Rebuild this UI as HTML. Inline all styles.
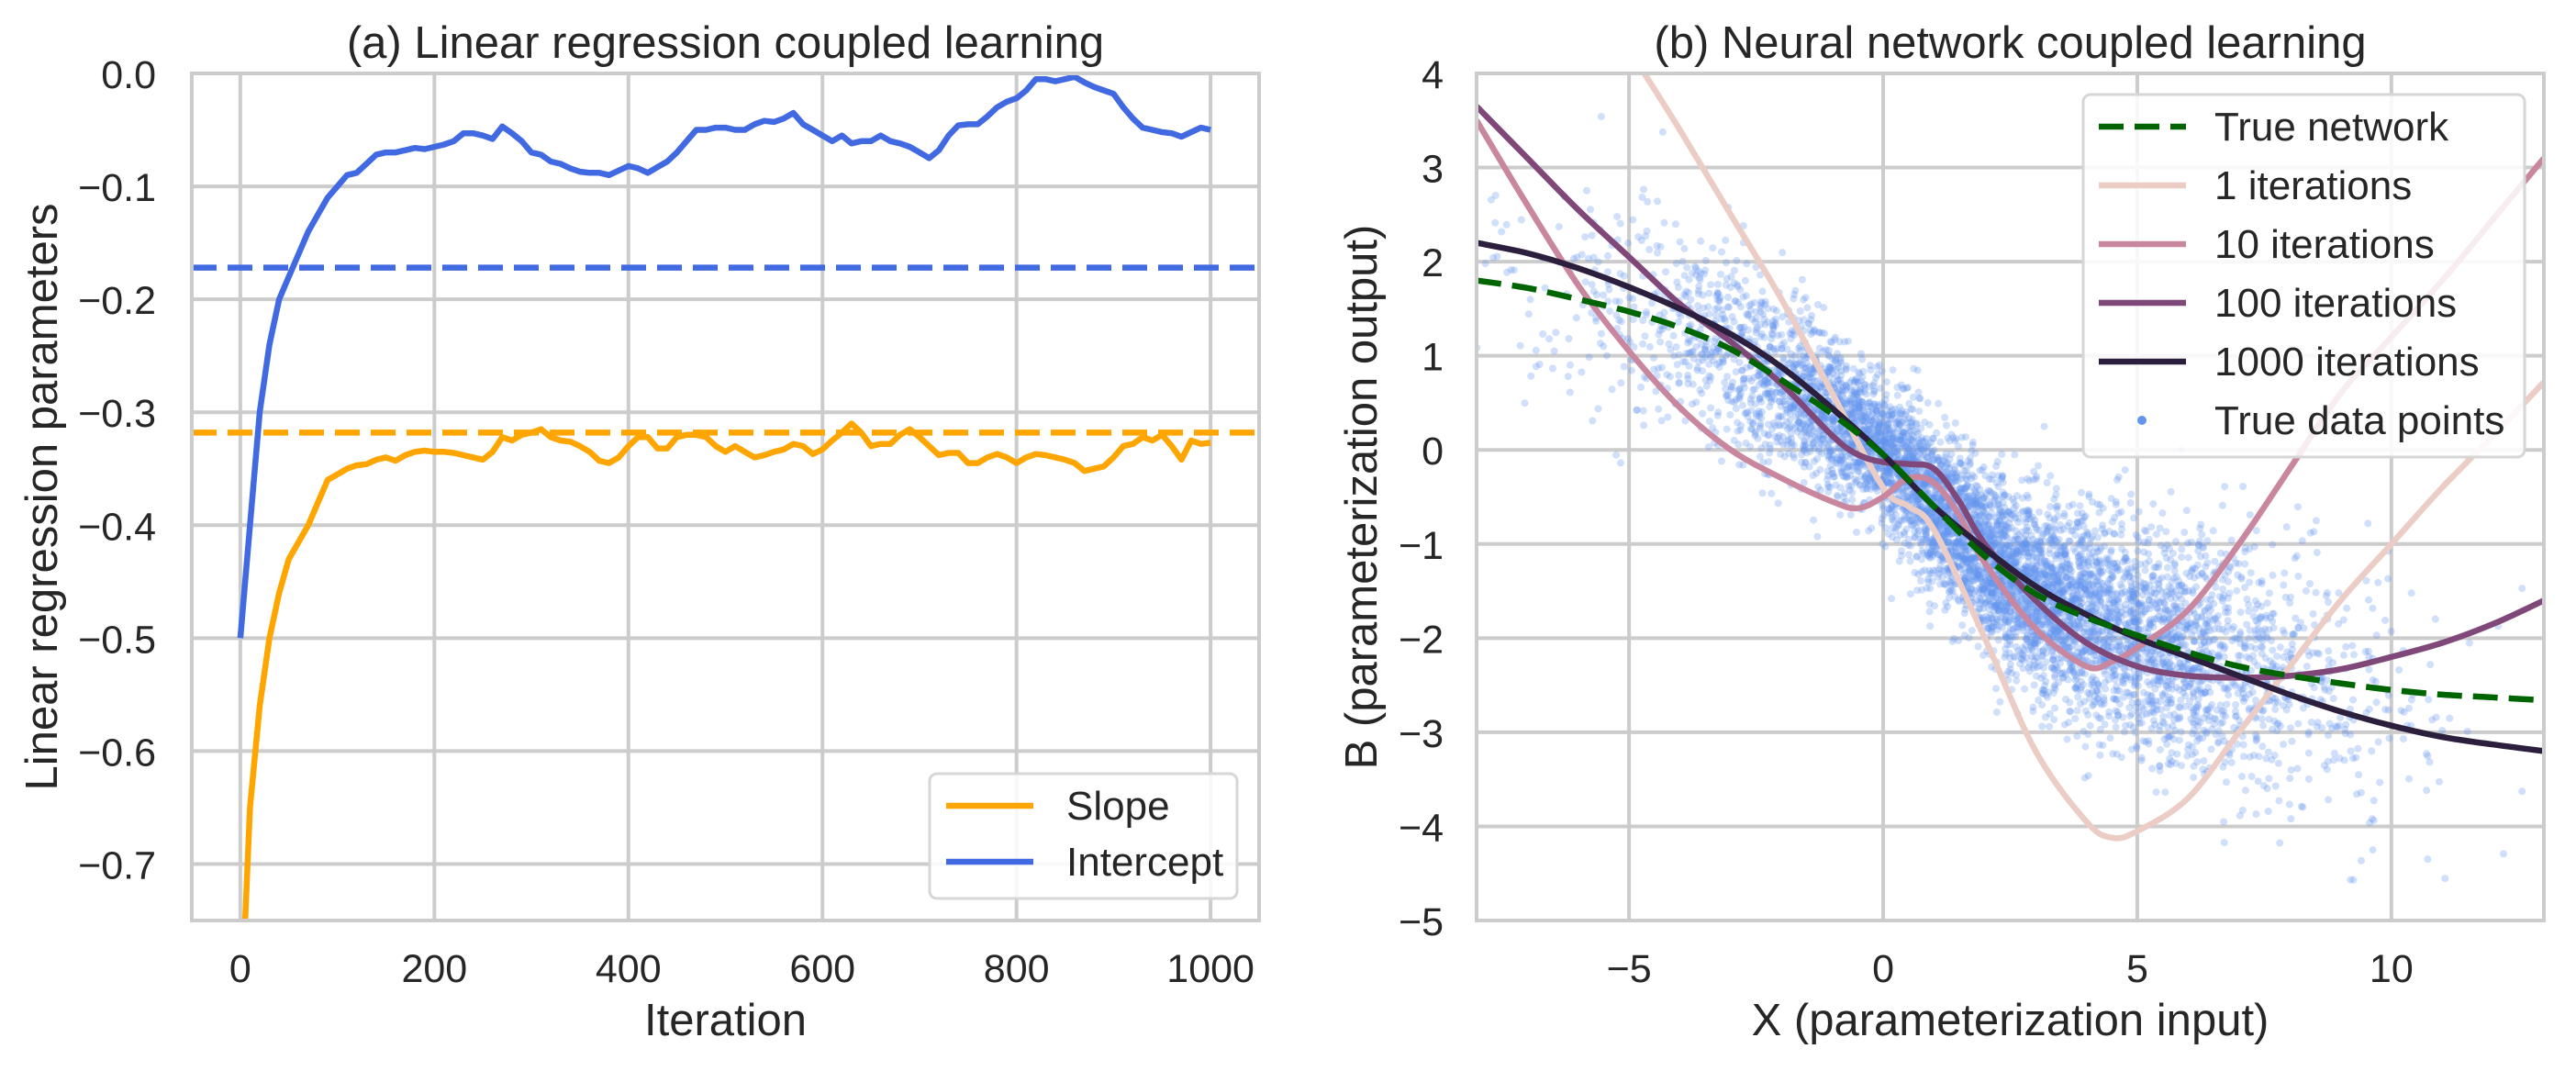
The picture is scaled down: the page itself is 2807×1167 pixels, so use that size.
<!DOCTYPE html>
<html><head><meta charset="utf-8"><style>
html,body{margin:0;padding:0;background:#fff}
svg{display:block;font-family:"Liberation Sans",Arial,sans-serif}
</style></head><body>
<svg id="fig" width="2807" height="1167" viewBox="0 0 2807 1167" xmlns="http://www.w3.org/2000/svg">
<g id="left"></g>
<g id="right"></g>
</svg>
<script>
// ---- Panel (a) data ----
const iterSteps = [0,10,20,30,40,50,60,70,80,90,100,110,120,130,140,150,160,170,180,190,200,210,220,230,240,250,260,270,280,290,300,310,320,330,340,350,360,370,380,390,400,410,420,430,440,450,460,470,480,490,500,510,520,530,540,550,560,570,580,590,600,610,620,630,640,650,660,670,680,690,700,710,720,730,740,750,760,770,780,790,800,810,820,830,840,850,860,870,880,890,900,910,920,930,940,950,960,970,980,990,1000];
const interceptVals = [-0.50,-0.40,-0.30,-0.24,-0.20,-0.18,-0.16,-0.14,-0.125,-0.11,-0.10,-0.09,-0.088,-0.08,-0.072,-0.07,-0.07,-0.068,-0.066,-0.067,-0.065,-0.063,-0.06,-0.053,-0.053,-0.055,-0.058,-0.047,-0.053,-0.06,-0.07,-0.072,-0.078,-0.08,-0.084,-0.087,-0.088,-0.088,-0.09,-0.086,-0.082,-0.084,-0.088,-0.083,-0.078,-0.07,-0.06,-0.05,-0.05,-0.048,-0.048,-0.05,-0.05,-0.045,-0.042,-0.043,-0.04,-0.035,-0.045,-0.05,-0.055,-0.06,-0.055,-0.062,-0.06,-0.06,-0.055,-0.06,-0.062,-0.065,-0.07,-0.075,-0.068,-0.055,-0.046,-0.045,-0.045,-0.038,-0.03,-0.025,-0.022,-0.015,-0.005,-0.005,-0.007,-0.005,-0.003,-0.008,-0.012,-0.015,-0.018,-0.03,-0.04,-0.048,-0.05,-0.052,-0.053,-0.056,-0.052,-0.048,-0.05];
const slopeVals = [-0.85,-0.65,-0.56,-0.50,-0.46,-0.43,-0.415,-0.40,-0.38,-0.36,-0.355,-0.35,-0.347,-0.346,-0.342,-0.340,-0.343,-0.338,-0.335,-0.334,-0.335,-0.335,-0.336,-0.338,-0.340,-0.342,-0.335,-0.322,-0.325,-0.32,-0.318,-0.315,-0.322,-0.325,-0.326,-0.33,-0.335,-0.343,-0.345,-0.34,-0.33,-0.322,-0.322,-0.332,-0.332,-0.322,-0.32,-0.32,-0.322,-0.33,-0.335,-0.33,-0.335,-0.34,-0.338,-0.335,-0.333,-0.328,-0.33,-0.337,-0.333,-0.325,-0.318,-0.31,-0.318,-0.33,-0.328,-0.328,-0.32,-0.315,-0.322,-0.33,-0.338,-0.336,-0.336,-0.345,-0.345,-0.34,-0.337,-0.34,-0.345,-0.34,-0.337,-0.338,-0.34,-0.342,-0.345,-0.352,-0.35,-0.348,-0.34,-0.33,-0.328,-0.322,-0.325,-0.32,-0.33,-0.342,-0.325,-0.328,-0.327];
const trueIntercept = -0.172;
const trueSlope = -0.318;
const leftXTicks = [0,200,400,600,800,1000];
const leftYTicks = [0,-0.1,-0.2,-0.3,-0.4,-0.5,-0.6,-0.7];
const leftYTickLabels = ["0.0","\u22120.1","\u22120.2","\u22120.3","\u22120.4","\u22120.5","\u22120.6","\u22120.7"];

// ---- Panel (b) data ----
const trueNetX = [-8,-7,-6,-5,-4,-3,-2,-1,0,1,2,3,4,5,6,7,8,9,10,11,12,13];
const trueNetY = [1.8,1.72,1.6,1.47,1.3,1.07,0.74,0.38,-0.05,-0.6,-1.13,-1.53,-1.78,-1.97,-2.15,-2.3,-2.4,-2.48,-2.55,-2.6,-2.63,-2.66];
const it1X = [-4.7,-4,-3,-2,-1,0,0.5,1,2,3,4,4.5,5,6,7,8,9,10,11,12,13];
const it1Y = [4.0,3.4,2.5,1.6,0.6,-0.4,-0.6,-0.85,-2.0,-3.2,-3.95,-4.12,-4.05,-3.7,-3.0,-2.3,-1.6,-1.0,-0.4,0.15,0.72];
const it10X = [-8,-7,-6,-5,-4,-3,-2,-1,-0.5,0,0.5,1,1.5,2,3,4,4.5,5,6,7,8,9,10,11,12,13];
const it10Y = [3.5,2.6,1.75,1.05,0.45,0.0,-0.3,-0.55,-0.62,-0.5,-0.3,-0.35,-0.7,-1.2,-1.9,-2.3,-2.25,-2.1,-1.7,-1.0,-0.2,0.6,1.2,1.8,2.45,3.1];
const it100X = [-8,-7,-6,-5,-4,-3,-2,-1,-0.5,0,0.5,1,1.5,2,3,4,5,6,7,8,9,10,11,12,13];
const it100Y = [3.65,3.1,2.55,2.05,1.55,1.15,0.7,0.15,-0.05,-0.13,-0.15,-0.2,-0.55,-1.0,-1.6,-2.05,-2.3,-2.4,-2.42,-2.4,-2.33,-2.2,-2.05,-1.85,-1.6];
const it1000X = [-8,-7,-6,-5,-4,-3,-2,-1,0,1,2,3,4,5,6,7,8,9,10,11,12,13];
const it1000Y = [2.2,2.09,1.93,1.73,1.5,1.23,0.88,0.44,-0.05,-0.6,-1.05,-1.45,-1.75,-2.0,-2.2,-2.4,-2.6,-2.78,-2.93,-3.05,-3.13,-3.2];
const rightXTicks = [-5,0,5,10];
const rightXTickLabels = ["\u22125","0","5","10"];
const rightYTicks = [4,3,2,1,0,-1,-2,-3,-4,-5];
const rightYTickLabels = ["4","3","2","1","0","\u22121","\u22122","\u22123","\u22124","\u22125"];

const NS = "http://www.w3.org/2000/svg";
function mk(parent, tag, attrs, text){
  const e = document.createElementNS(NS, tag);
  for (const k in attrs) e.setAttribute(k, attrs[k]);
  if (text !== undefined) e.textContent = text;
  parent.appendChild(e);
  return e;
}
const GRID = "#cccccc", TXT = "#262626";
const TICKF = 43, LABF = 49, TITF = 49, LEGF = 44, LW = 6.5, GW = 4;
const DASH = '27 12';

// ---- Left panel ----
const L = document.getElementById('left');
const lx0=209, lx1=1372, ly0=80, ly1=1003;
const lX = v => lx0 + (v - (-50)) / 1100 * (lx1 - lx0);
const lY = v => ly0 + (0 - v) / 0.75 * (ly1 - ly0);
leftXTicks.forEach(t => {
  const g = mk(L,'line',{x1:lX(t),x2:lX(t),y1:ly0,y2:ly1,stroke:GRID,'stroke-width':GW});
  
  
  const lb = mk(L,'text',{x:lX(t),y:1070,'text-anchor':'middle','font-size':TICKF,fill:TXT},String(t));
  
  
});
leftYTicks.forEach((t,i) => {
  const g = mk(L,'line',{x1:lx0,x2:lx1,y1:lY(t),y2:lY(t),stroke:GRID,'stroke-width':GW});
  
  
  const lb = mk(L,'text',{x:170,y:lY(t)+16,'text-anchor':'end','font-size':TICKF,fill:TXT},leftYTickLabels[i]);
  
  
});
const lclip = mk(L,'clipPath',{id:'lclip'});
mk(lclip,'rect',{x:lx0,y:ly0,width:lx1-lx0,height:ly1-ly0});
const lg = mk(L,'g',{'clip-path':'url(#lclip)'});
function polyD(xs, ys, fx, fy){ return xs.map((x,i)=>(i?'L':'M')+fx(x).toFixed(1)+','+fy(ys[i]).toFixed(1)).join(''); }
const ti = mk(lg,'line',{x1:lx0,x2:lx1,y1:lY(trueIntercept),y2:lY(trueIntercept),stroke:'#4169e1','stroke-width':LW,'stroke-dasharray':DASH});


const ts = mk(lg,'line',{x1:lx0,x2:lx1,y1:lY(trueSlope),y2:lY(trueSlope),stroke:'#ffa500','stroke-width':LW,'stroke-dasharray':DASH});


const sl = mk(lg,'path',{d:polyD(iterSteps,slopeVals,lX,lY),fill:'none',stroke:'#ffa500','stroke-width':LW,'stroke-linejoin':'round'});


const il = mk(lg,'path',{d:polyD(iterSteps,interceptVals,lX,lY),fill:'none',stroke:'#4169e1','stroke-width':LW,'stroke-linejoin':'round'});


mk(L,'rect',{x:lx0,y:ly0,width:lx1-lx0,height:ly1-ly0,fill:'none',stroke:GRID,'stroke-width':GW});
const lt = mk(L,'text',{x:(lx0+lx1)/2,y:63,'text-anchor':'middle','font-size':TITF,fill:TXT},'(a) Linear regression coupled learning');


const lxl = mk(L,'text',{x:(lx0+lx1)/2,y:1128,'text-anchor':'middle','font-size':LABF,fill:TXT},'Iteration');


const lyl = mk(L,'text',{x:0,y:0,'text-anchor':'middle','font-size':LABF,fill:TXT,transform:'translate(62,'+((ly0+ly1)/2)+') rotate(-90)'},'Linear regression parameters');


const lleg = mk(L,'g',{});


mk(lleg,'rect',{x:1013,y:843,width:335,height:136,rx:8,fill:'#fff','fill-opacity':0.85,stroke:'#d6d6d6','stroke-width':3});
[['Slope','#ffa500',878],['Intercept','#4169e1',939]].forEach(([n,c,y])=>{
  const e = mk(lleg,'g',{});
  
  
  mk(e,'line',{x1:1031,x2:1126,y1:y,y2:y,stroke:c,'stroke-width':LW});
  mk(e,'text',{x:1162,y:y+15,'font-size':LEGF,fill:TXT},n);
});

// ---- Right panel ----
const R = document.getElementById('right');
const rx0=1609, rx1=2772, ry0=80, ry1=1003;
const rX = v => rx0 + (v + 8) / 21 * (rx1 - rx0);
const rY = v => ry0 + (4 - v) / 9 * (ry1 - ry0);
rightXTicks.forEach((t,i) => {
  const g = mk(R,'line',{x1:rX(t),x2:rX(t),y1:ry0,y2:ry1,stroke:GRID,'stroke-width':GW});
  
  
  const lb = mk(R,'text',{x:rX(t),y:1070,'text-anchor':'middle','font-size':TICKF,fill:TXT},rightXTickLabels[i]);
  
  
});
rightYTicks.forEach((t,i) => {
  const g = mk(R,'line',{x1:rx0,x2:rx1,y1:rY(t),y2:rY(t),stroke:GRID,'stroke-width':GW});
  
  
  const lb = mk(R,'text',{x:1573,y:rY(t)+16,'text-anchor':'end','font-size':TICKF,fill:TXT},rightYTickLabels[i]);
  
  
});
const rclip = mk(R,'clipPath',{id:'rclip'});
mk(rclip,'rect',{x:rx0,y:ry0,width:rx1-rx0,height:ry1-ry0});
const rg = mk(R,'g',{'clip-path':'url(#rclip)'});
function interp(xs, ys, x){
  if (x<=xs[0]) return ys[0];
  for (let i=1;i<xs.length;i++) if (x<=xs[i]) { const t=(x-xs[i-1])/(xs[i]-xs[i-1]); return ys[i-1]+t*(ys[i]-ys[i-1]); }
  return ys[ys.length-1];
}
// scatter texture of true data points (seeded noise around the true network)
let seed = 12345;
function rnd(){ seed = (seed*1103515245+12345) % 2147483648; return seed/2147483648; }
function gauss(){ let u=rnd()||1e-9, v=rnd(); return Math.sqrt(-2*Math.log(u))*Math.cos(2*Math.PI*v); }
const sg = mk(rg,'g',{fill:'#6495ed','fill-opacity':0.3});


let pts='';
for (let i=0;i<6500;i++){
  const x = 2 + 3.2*gauss();
  const y = interp(trueNetX,trueNetY,x) + (0.35+0.05*Math.abs(x))*gauss();
  pts += `<circle cx="${rX(x).toFixed(1)}" cy="${rY(y).toFixed(1)}" r="4"/>`;
}
sg.innerHTML = pts;
function smoothD(xs, ys){
  const P = xs.map((x,i)=>[rX(x), rY(ys[i])]);
  let d = 'M'+P[0][0].toFixed(1)+','+P[0][1].toFixed(1);
  for (let i=0;i<P.length-1;i++){
    const p0=P[Math.max(0,i-1)], p1=P[i], p2=P[i+1], p3=P[Math.min(P.length-1,i+2)];
    const c1=[p1[0]+(p2[0]-p0[0])/6, p1[1]+(p2[1]-p0[1])/6];
    const c2=[p2[0]-(p3[0]-p1[0])/6, p2[1]-(p3[1]-p1[1])/6];
    d += `C${c1[0].toFixed(1)},${c1[1].toFixed(1)} ${c2[0].toFixed(1)},${c2[1].toFixed(1)} ${p2[0].toFixed(1)},${p2[1].toFixed(1)}`;
  }
  return d;
}
const c1 = mk(rg,'path',{d:smoothD(it1X,it1Y),fill:'none',stroke:'#ebcdc6','stroke-width':LW});


const c10 = mk(rg,'path',{d:smoothD(it10X,it10Y),fill:'none',stroke:'#c9879f','stroke-width':LW});


const c100 = mk(rg,'path',{d:smoothD(it100X,it100Y),fill:'none',stroke:'#7f4878','stroke-width':LW});


const c1000 = mk(rg,'path',{d:smoothD(it1000X,it1000Y),fill:'none',stroke:'#2c1e3d','stroke-width':LW});


const tn = mk(rg,'path',{d:smoothD(trueNetX,trueNetY),fill:'none',stroke:'#006400','stroke-width':LW,'stroke-dasharray':DASH});


mk(R,'rect',{x:rx0,y:ry0,width:rx1-rx0,height:ry1-ry0,fill:'none',stroke:GRID,'stroke-width':GW});
const rt = mk(R,'text',{x:(rx0+rx1)/2,y:63,'text-anchor':'middle','font-size':TITF,fill:TXT},'(b) Neural network coupled learning');


const rxl = mk(R,'text',{x:(rx0+rx1)/2,y:1128,'text-anchor':'middle','font-size':LABF,fill:TXT},'X (parameterization input)');


const ryl = mk(R,'text',{x:0,y:0,'text-anchor':'middle','font-size':LABF,fill:TXT,transform:'translate(1500,'+((ry0+ry1)/2)+') rotate(-90)'},'B (parameterization output)');


const rleg = mk(R,'g',{});


mk(rleg,'rect',{x:2270,y:103,width:481,height:395,rx:8,fill:'#fff','fill-opacity':0.85,stroke:'#d6d6d6','stroke-width':3});
[['True network','#006400',138,true],['1 iterations','#ebcdc6',202],['10 iterations','#c9879f',266],['100 iterations','#7f4878',330],['1000 iterations','#2c1e3d',394]].forEach(([n,c,y,dash])=>{
  const e = mk(rleg,'g',{});
  
  
  const a = {x1:2287,x2:2382,y1:y,y2:y,stroke:c,'stroke-width':LW};
  if (dash) a['stroke-dasharray']=DASH;
  mk(e,'line',a);
  mk(e,'text',{x:2413,y:y+15,'font-size':LEGF,fill:TXT},n);
});
const de = mk(rleg,'g',{});


mk(de,'circle',{cx:2334,cy:458,r:5,fill:'#6495ed'});
mk(de,'text',{x:2413,y:473,'font-size':LEGF,fill:TXT},'True data points');
</script>
</body></html>
